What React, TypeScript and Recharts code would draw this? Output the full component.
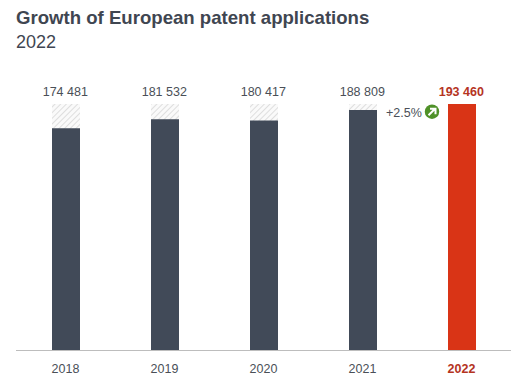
import React from "react";
import { BarChart, Bar, XAxis, YAxis, Cell, LabelList } from "recharts";

const years = ["2018", "2019", "2020", "2021", "2022"];
const applications = [174481, 181532, 180417, 188809, 193460];
const ceiling = 193460;
const growthLabel = "+2.5%";
const titleText = "Growth of European patent applications";
const subtitleText = "2022";

const rows = years.map((year, i) => ({ year, value: applications[i], ceiling }));
const FONT = "'Liberation Sans', Arial, sans-serif";
const DARK = "#414a58";
const RED = "#d93416";
const TEXT = "#4a4f57";

const fmt = (v: number) => String(v).replace(/\B(?=(\d{3})+$)/g, " ");

const ValueLabel = (props: any) => {
  const { x, y, width, index, value } = props;
  const last = index === years.length - 1;
  const cx = x + width / 2;
  return (
    <g>
      <text
        x={cx - 0.7}
        y={y - 8}
        textAnchor="middle"
        fontFamily={FONT}
        fontSize={12.5}
        fontWeight={last ? 700 : 400}
        fill={last ? "#b5341f" : TEXT}
      >
        {fmt(Number(value))}
      </text>
      {index === years.length - 2 ? (
        <g>
          <text x={x + 37} y={y + 12.5} fontFamily={FONT} fontSize={12.5} fill={TEXT}>
            {growthLabel}
          </text>
          <circle cx={x + 83} cy={y + 7.7} r={7.2} fill="#4f9128" />
          <path
            d={`M${x + 79.5} ${y + 11.2} L${x + 85.5} ${y + 5.2} M${x + 81} ${y + 4.7} H${x + 86.5} V${y + 10.2}`}
            stroke="#fff"
            strokeWidth={2}
            fill="none"
          />
        </g>
      ) : null}
    </g>
  );
};

const YearTick = (props: any) => {
  const { x, y, payload, index } = props;
  const last = index === years.length - 1;
  return (
    <text
      x={x}
      y={y + 14}
      textAnchor="middle"
      fontFamily={FONT}
      fontSize={12.5}
      fontWeight={last ? 700 : 400}
      fill={last ? "#b5341f" : TEXT}
    >
      {payload.value}
    </text>
  );
};

export default function App() {
  return (
    <div style={{ position: "absolute", left: 0, top: 0, width: 527, height: 375, background: "#fff" }}>
      <div
        style={{
          position: "absolute",
          left: 16,
          top: 8,
          fontFamily: FONT,
          fontSize: 18.6,
          lineHeight: "20px",
          fontWeight: 700,
          color: "#3f4651",
          whiteSpace: "nowrap",
        }}
      >
        {titleText}
      </div>
      <div
        style={{
          position: "absolute",
          left: 16,
          top: 32,
          fontFamily: FONT,
          fontSize: 18,
          lineHeight: "20px",
          color: "#3f4651",
        }}
      >
        {subtitleText}
      </div>
      <BarChart
        width={527}
        height={375}
        data={rows}
        margin={{ top: 104, right: 16, bottom: 0, left: 16 }}
        barCategoryGap={0}
        barGap={-28}
        barSize={28}
      >
        <defs>
          <pattern id="hatch" width="4" height="4" patternUnits="userSpaceOnUse" patternTransform="rotate(45)">
            <rect width="4" height="4" fill="#fafafa" />
            <line x1="0" y1="0" x2="0" y2="4" stroke="#d0d0d0" strokeWidth="1.3" />
          </pattern>
        </defs>
        <XAxis
          dataKey="year"
          height={24.5}
          interval={0}
          tickLine={false}
          axisLine={{ stroke: "#bdbdbd", strokeWidth: 1 }}
          tick={<YearTick />}
        />
        <YAxis hide domain={[0, ceiling]} />
        <Bar dataKey="ceiling" fill="url(#hatch)" isAnimationActive={false}>
          <LabelList dataKey="value" content={<ValueLabel />} />
        </Bar>
        <Bar dataKey="value" fill={DARK} isAnimationActive={false}>
          {rows.map((r, i) => (
            <Cell key={r.year} fill={i === rows.length - 1 ? RED : DARK} />
          ))}
        </Bar>
      </BarChart>
    </div>
  );
}
